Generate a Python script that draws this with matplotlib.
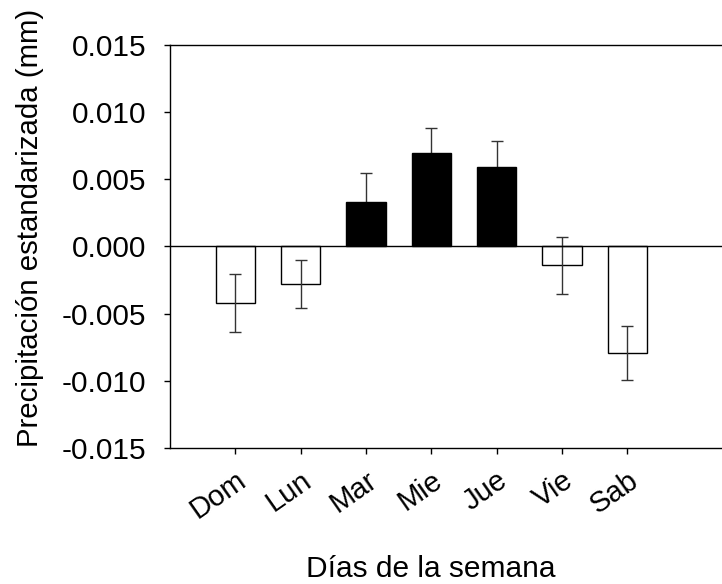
import matplotlib
matplotlib.use("Agg")
import matplotlib.pyplot as plt
import numpy as np

plt.rcParams['font.family'] = ['Liberation Sans', 'DejaVu Sans']

days = ["Dom", "Lun", "Mar", "Mie", "Jue", "Vie", "Sab"]
values = [-0.00421, -0.00282, 0.00329, 0.00698, 0.00589, -0.00141, -0.00792]
errors = [0.00217, 0.00177, 0.00215, 0.00183, 0.00196, 0.00212, 0.00203]
yticks = [-0.015, -0.010, -0.005, 0.000, 0.005, 0.010, 0.015]

fig = plt.figure(figsize=(7.22, 5.84), dpi=100)
ax = fig.add_axes([170/722, 1-448/584, 1-170/722, (448-44.7)/584])

x = np.arange(len(days))
vals = np.array(values)
errs = np.array(errors)
colors = ['black' if v > 0 else 'white' for v in values]
ax.bar(x, vals, width=0.6, color=colors, edgecolor='black', linewidth=1.0, zorder=2)
pos = vals > 0
ax.errorbar(x[pos], vals[pos], yerr=errs[pos], fmt='none', ecolor='#333333', elinewidth=1.0,
            capsize=4, capthick=1.0, zorder=1)
ax.errorbar(x[~pos], vals[~pos], yerr=errs[~pos], fmt='none', ecolor='#333333', elinewidth=1.0,
            capsize=4, capthick=1.0, zorder=3)
ax.axhline(0, color='black', linewidth=1.0, zorder=4)

ax.set_xlim(-1, 7.45)
ax.set_ylim(-0.015, 0.015)
ax.set_yticks(yticks)
ax.set_yticklabels([f"{t:.3f}" for t in yticks], fontsize=21.5)
ax.set_xticks(x)
ax.set_xticklabels(days, fontsize=21, rotation=35, ha='right', rotation_mode='anchor')
ax.tick_params(axis='y', direction='out', length=4, width=1, pad=13)
ax.tick_params(axis='x', direction='out', length=4, width=1, pad=9)
ax.spines['right'].set_visible(False)
for s in ['left', 'top', 'bottom']:
    ax.spines[s].set_linewidth(1.0)

ax.set_ylabel("Precipitación estandarizada (mm)", fontsize=21.2)
ax.yaxis.set_label_coords(-(170-30)/552, (448-228)/(448-44.7))
ax.yaxis.label.set_va('center')
ax.set_xlabel("Días de la semana", fontsize=21.5)
ax.xaxis.set_label_coords((431-170)/(722-170), -(577-448)/(448-44.7))
ax.xaxis.label.set_va('baseline')

fig.savefig("out.png", dpi=100)
